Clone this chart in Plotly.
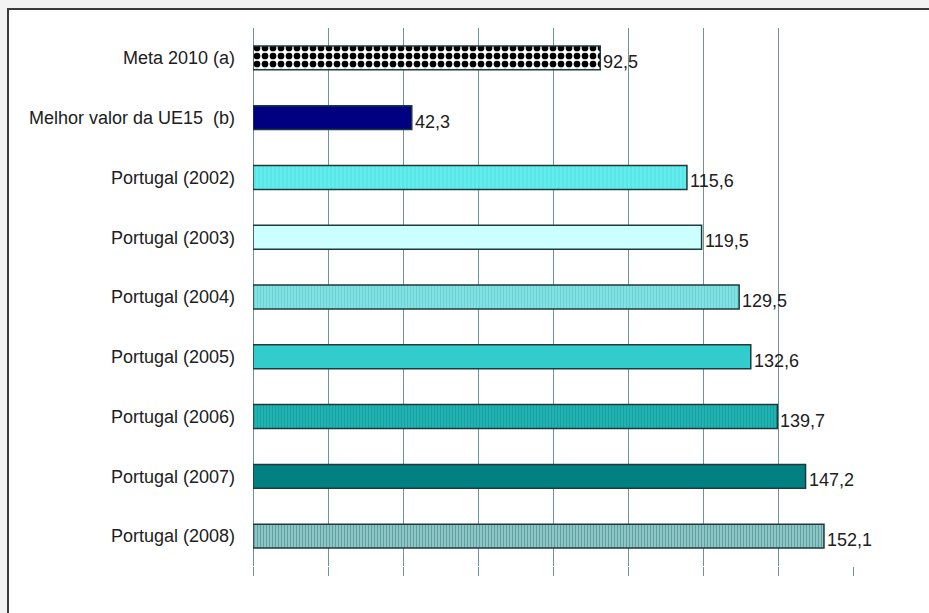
import plotly.graph_objects as go

# Categories (top to bottom) and their values
categories = [
    "Meta 2010 (a)",
    "Melhor valor da UE15  (b)",
    "Portugal (2002)",
    "Portugal (2003)",
    "Portugal (2004)",
    "Portugal (2005)",
    "Portugal (2006)",
    "Portugal (2007)",
    "Portugal (2008)",
]
values = [92.5, 42.3, 115.6, 119.5, 129.5, 132.6, 139.7, 147.2, 152.1]
value_labels = ["92,5", "42,3", "115,6", "119,5", "129,5", "132,6", "139,7", "147,2", "152,1"]

# Fill styles per bar
bg_colors = ["#ffffff", "#000080", "#62eeee", "#ccffff", "#80e2e2",
             "#33cccc", "#22b2b2", "#008080", "#96cece"]
fg_colors = ["#000000", "#000080", "#55e2e2", "#ccffff", "#6fd2d2",
             "#33cccc", "#17a2a2", "#008080", "#62a0a0"]
shapes_fill = [".", "", "|", "", "|", "", "|", "", "|"]
pattern_size = [8, 8, 4, 8, 3, 8, 3, 8, 3]
pattern_solid = [0.55, 0.3, 0.3, 0.3, 0.35, 0.3, 0.35, 0.3, 0.45]

W, H = 929, 613
ML, MR, MT, MB = 253, 75, 28, 47
FONT = "Liberation Sans, Arial, sans-serif"

fig = go.Figure()
for cat, v, bg, fg, shp, sz, sol in zip(categories, values, bg_colors, fg_colors,
                                        shapes_fill, pattern_size, pattern_solid):
    fig.add_trace(go.Bar(
        x=[v], y=[cat], orientation="h", width=0.4,
        marker=dict(
            color=bg,
            line=dict(color="#1e3a3a", width=1.5),
            pattern=dict(shape=shp, fgcolor=fg, fgopacity=1, size=sz,
                         solidity=sol, fillmode="overlay"),
        ),
        hoverinfo="skip",
    ))

# Value labels just past the end of each bar
for cat, v, lab in zip(categories, values, value_labels):
    fig.add_annotation(
        x=v, y=cat, text=lab, showarrow=False,
        xanchor="left", yanchor="middle", xshift=1, yshift=-4,
        font=dict(family=FONT, size=18, color="#202020"),
    )

pw = W - ML - MR
ph = H - MT - MB
# Outer chart frame (runs past the right and bottom edges of the page)
fig.add_shape(
    type="rect", xref="paper", yref="paper", layer="below",
    x0=(8 - ML) / pw, x1=(W + 10 - ML) / pw,
    y0=-(MB + 10) / ph, y1=(H - MB - 9) / ph,
    line=dict(color="#3c3c3c", width=2), fillcolor="#ffffff",
)

fig.update_layout(
    width=W, height=H,
    margin=dict(l=ML, r=MR, t=MT, b=MB, pad=0),
    paper_bgcolor="#f3f3f3",
    plot_bgcolor="rgba(0,0,0,0)",
    showlegend=False,
    barmode="overlay",
    font=dict(family=FONT, size=18, color="#202020"),
    xaxis=dict(
        range=[0, 160.1], dtick=20, showticklabels=False,
        showgrid=True, gridcolor="#6a9696", gridwidth=1,
        zeroline=True, zerolinecolor="#6a9696", zerolinewidth=1,
        showline=False,
        ticks="outside", ticklen=9, tickcolor="#6a9696",
    ),
    yaxis=dict(
        categoryorder="array", categoryarray=categories,
        autorange="reversed",
        showgrid=False, zeroline=False, showline=False,
        ticks="", ticklabelstandoff=17,
        tickfont=dict(family=FONT, size=18, color="#202020"),
    ),
)

fig.write_html("out.html")
